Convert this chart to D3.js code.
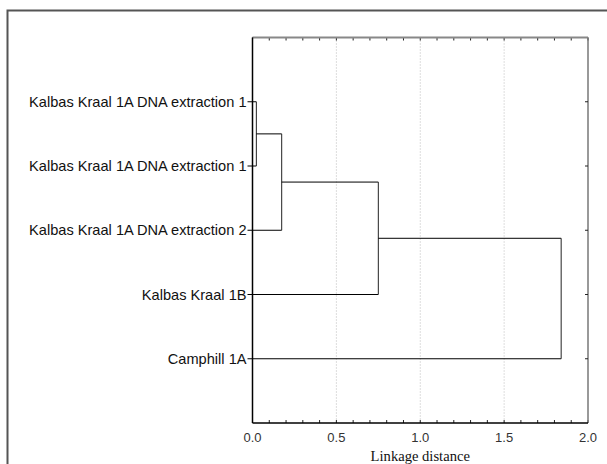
<!DOCTYPE html>
<html>
<head>
<meta charset="utf-8">
<script src="https://cdn.jsdelivr.net/npm/d3@7"></script>
<style>
  body { margin: 0; background: #fff; }
  svg { display: block; }
</style>
</head>
<body>
<div id="chart"></div>
<script>
var leaves = [
  'Kalbas Kraal 1A DNA extraction 1',
  'Kalbas Kraal 1A DNA extraction 1',
  'Kalbas Kraal 1A DNA extraction 2',
  'Kalbas Kraal 1B',
  'Camphill 1A'
]
// each merge: [left child, right child, linkage distance]; children >= 5 are earlier merges
var mergeLeft = [0, 5, 6, 7]
var mergeRight = [1, 2, 3, 4]
var mergeDist = [0.023, 0.174, 0.75, 1.84]
var xTicks = [0.0, 0.5, 1.0, 1.5, 2.0]

var W = 607, H = 464
var margin = { left: 252.5, right: 19, top: 37.5, bottom: 41 }

var svg = d3.select('#chart').append('svg')
  .attr('width', W)
  .attr('height', H)

// outer frame
svg.append('rect')
  .attr('x', 7.5).attr('y', 10.5)
  .attr('width', W + 10).attr('height', H + 10)
  .attr('fill', 'none')
  .attr('stroke', '#555')
  .attr('stroke-width', 2)

var x = d3.scaleLinear().domain([0, 2]).range([margin.left, W - margin.right])
var y = d3.scalePoint().domain(d3.range(leaves.length))
  .range([margin.top, H - margin.bottom]).padding(1)

var g = svg.append('g')

// dotted grid
g.selectAll('.grid').data(xTicks.slice(1, -1)).enter()
  .append('line')
  .attr('x1', d => x(d)).attr('x2', d => x(d))
  .attr('y1', margin.top).attr('y2', H - margin.bottom)
  .attr('stroke', '#bbb')
  .attr('stroke-width', 1)
  .attr('stroke-dasharray', '1,2')

// minor ticks top and bottom (inward)
var minor = d3.range(0, 2.001, 0.1)
g.selectAll('.tb').data(minor).enter().append('line')
  .attr('x1', d => x(d)).attr('x2', d => x(d))
  .attr('y1', margin.top).attr('y2', margin.top + 3)
  .attr('stroke', '#222')
g.selectAll('.bb').data(minor).enter().append('line')
  .attr('x1', d => x(d)).attr('x2', d => x(d))
  .attr('y1', H - margin.bottom).attr('y2', H - margin.bottom - 3)
  .attr('stroke', '#222')

// dendrogram
var nodeY = leaves.map((d, i) => y(i))
var nodeX = leaves.map(() => 0)
mergeDist.forEach(function(dist, k) {
  var a = mergeLeft[k], b = mergeRight[k]
  var xm = x(dist)
  ;[a, b].forEach(function(c) {
    g.append('line')
      .attr('x1', x(nodeX[c])).attr('x2', xm)
      .attr('y1', nodeY[c]).attr('y2', nodeY[c])
      .attr('stroke', '#000').attr('stroke-width', 1)
  })
  g.append('line')
    .attr('x1', xm).attr('x2', xm)
    .attr('y1', nodeY[a]).attr('y2', nodeY[b])
    .attr('stroke', '#222').attr('stroke-width', 1)
  nodeY.push((nodeY[a] + nodeY[b]) / 2)
  nodeX.push(dist)
})

// plot frame
g.append('line')
  .attr('x1', margin.left).attr('x2', W - margin.right)
  .attr('y1', margin.top).attr('y2', margin.top)
  .attr('stroke', '#888').attr('stroke-width', 2)
g.append('line')
  .attr('x1', W - margin.right).attr('x2', W - margin.right)
  .attr('y1', margin.top).attr('y2', H - margin.bottom)
  .attr('stroke', '#777').attr('stroke-width', 1.5)
g.append('line')
  .attr('x1', margin.left).attr('x2', margin.left)
  .attr('y1', margin.top).attr('y2', H - margin.bottom)
  .attr('stroke', '#000').attr('stroke-width', 1.5)
g.append('line')
  .attr('x1', margin.left).attr('x2', W - margin.right)
  .attr('y1', H - margin.bottom).attr('y2', H - margin.bottom)
  .attr('stroke', '#000').attr('stroke-width', 1.5)

// left ticks and labels
var lg = g.selectAll('.leaf').data(leaves).enter().append('g')
  .attr('transform', (d, i) => 'translate(0,' + y(i) + ')')
lg.append('line')
  .attr('x1', margin.left - 5).attr('x2', margin.left)
  .attr('stroke', '#000')
lg.append('text')
  .attr('x', margin.left - 6)
  .attr('dy', '0.35em')
  .attr('text-anchor', 'end')
  .attr('font-family', 'Liberation Sans, Arial, sans-serif')
  .attr('font-size', '14.6px')
  .attr('fill', '#111')
  .text(d => d)

// right ticks (inward)
g.selectAll('.rt').data(leaves).enter().append('line')
  .attr('x1', W - margin.right - 3).attr('x2', W - margin.right)
  .attr('y1', (d, i) => y(i)).attr('y2', (d, i) => y(i))
  .attr('stroke', '#222')

// x tick labels
g.selectAll('.xl').data(xTicks).enter().append('text')
  .attr('x', d => x(d))
  .attr('y', H - margin.bottom + 19)
  .attr('text-anchor', 'middle')
  .attr('font-family', 'Liberation Sans, Arial, sans-serif')
  .attr('font-size', '13px')
  .attr('fill', '#333')
  .text(d => d3.format('.1f')(d))

svg.append('text')
  .attr('x', x(1))
  .attr('y', H - 3)
  .attr('text-anchor', 'middle')
  .attr('font-family', 'Liberation Serif, Times New Roman, serif')
  .attr('font-size', '14.6px')
  .attr('fill', '#111')
  .text('Linkage distance')
</script>
</body>
</html>
